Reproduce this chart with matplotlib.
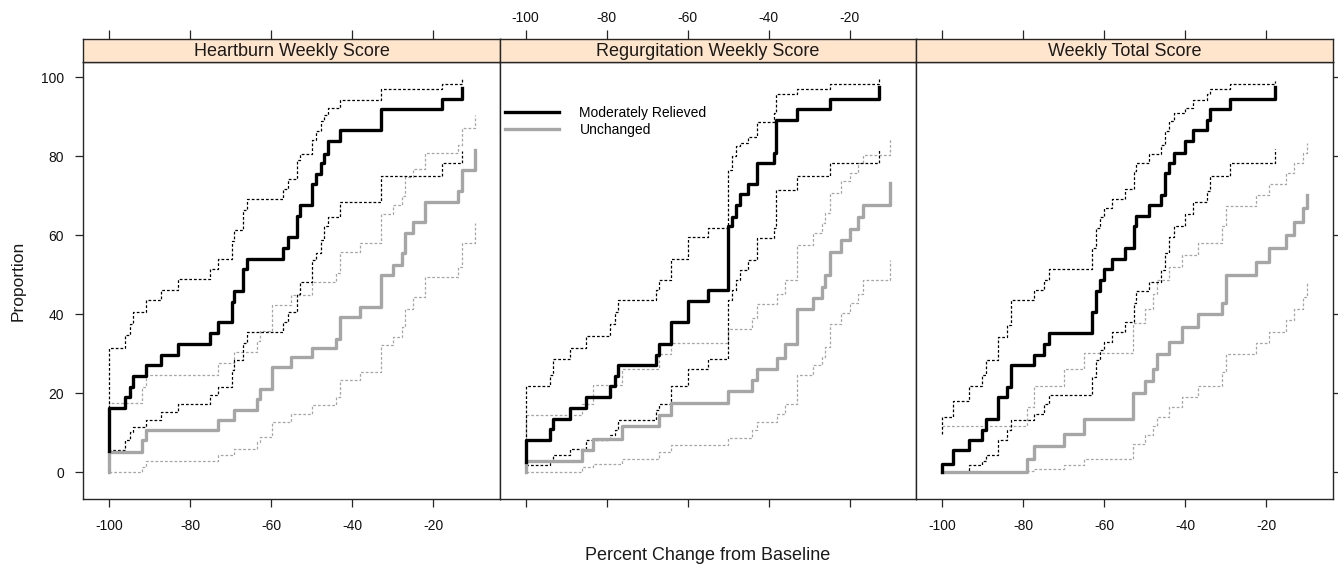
import matplotlib
matplotlib.use("Agg")
import matplotlib.pyplot as plt
from matplotlib.lines import Line2D

plt.rcParams['font.family'] = ['Liberation Sans', 'DejaVu Sans']
plt.rcParams['axes.unicode_minus'] = False

panel_titles = ["Heartburn Weekly Score", "Regurgitation Weekly Score", "Weekly Total Score"]
group_labels = ["Moderately Relieved", "Unchanged"]
x_ticks = [-100, -80, -60, -40, -20]
y_ticks = [0, 20, 40, 60, 80, 100]

# Heartburn: step breakpoints (% change) and cumulative proportion with CI
hb_mr_x = [-100, -100, -96.1, -94.9, -94.1, -90.8, -87.1, -83.1, -75.1, -73.1, -69.8, -69.1, -66.9,
           -66.1, -57.0, -55.8, -53.6, -52.9, -49.9, -49.0, -47.8, -46.9, -45.9, -43.0, -32.8, -17.9, -12.8]
hb_mr = [5.4, 16.2, 19.1, 21.7, 24.5, 27.2, 29.7, 32.4, 35.2, 38.0, 43.1, 45.9, 51.4, 54.1, 56.8,
         59.5, 65.0, 67.8, 73.1, 75.6, 78.3, 80.6, 83.8, 86.6, 91.9, 94.6, 97.4]
hb_mr_hi = [5.4, 31.6, 34.8, 37.7, 40.5, 43.7, 46.2, 48.9, 51.4, 54.1, 58.5, 61.5, 66.5, 69.2, 71.7,
            74.3, 79.2, 80.6, 84.3, 86.5, 88.9, 90.6, 92.3, 94.2, 97.1, 98.4, 99.7]
hb_mr_lo = [0.5, 5.8, 8.1, 10.2, 11.5, 13.2, 15.3, 17.4, 19.5, 21.7, 25.9, 28.4, 32.7, 35.6, 38.2,
            40.7, 45.3, 48.3, 53.8, 55.5, 58.9, 62.3, 64.8, 68.6, 75.1, 78.3, 81.5]
hb_un_x = [-100, -100, -92.0, -90.8, -73.1, -69.1, -63.6, -62.8, -59.9, -55.0, -49.9, -43.9, -43.0,
           -38.1, -32.8, -29.9, -27.8, -27.0, -24.9, -22.1, -13.8, -12.8, -9.7]
hb_un = [0, 5.2, 8.1, 10.7, 13.2, 15.9, 18.7, 21.2, 26.7, 29.3, 31.6, 33.9, 39.4, 42.0, 50.0, 52.5,
         55.5, 60.7, 63.4, 68.6, 71.2, 76.6, 81.7]
hb_un_hi = [0, 17.6, 21.7, 24.6, 27.6, 30.5, 33.2, 35.8, 42.4, 44.9, 48.1, 50.4, 55.7, 58.2, 65.4,
            67.6, 70.0, 74.8, 76.8, 80.9, 83.0, 87.2, 90.6]
hb_un_lo = [0, 0.1, 1.5, 2.9, 4.3, 6.0, 7.7, 8.9, 12.8, 14.9, 17.0, 19.1, 23.4, 25.5, 32.2, 34.3,
            36.9, 41.5, 44.5, 49.6, 52.1, 58.0, 63.1]

# Regurgitation
rg_mr_x = [-100, -100, -94.0, -93.2, -89.1, -85.1, -79.2, -77.9, -77.1, -67.8, -67.0, -64.0, -59.8,
           -54.9, -50.1, -49.1, -48.1, -47.1, -45.0, -43.0, -38.7, -38.2, -33.1, -24.9, -12.7]
rg_mr = [2.7, 8.1, 10.9, 13.6, 16.2, 19.1, 21.8, 24.4, 27.2, 29.7, 32.5, 38.0, 43.5, 46.2, 62.3,
         64.8, 67.8, 70.6, 73.1, 78.3, 81.0, 89.3, 91.9, 94.6, 97.5]
rg_mr_hi = [1.8, 21.8, 24.6, 28.6, 31.6, 34.6, 37.7, 40.5, 43.7, 46.2, 48.7, 54.1, 59.5, 62.0, 76.6,
            80.0, 82.6, 83.4, 85.0, 88.7, 91.0, 95.9, 97.1, 98.4, 99.7]
rg_mr_lo = [0.5, 1.8, 3.0, 4.3, 6.0, 8.1, 9.4, 10.7, 13.2, 15.7, 17.4, 21.8, 26.3, 28.6, 43.7,
            46.2, 48.7, 51.3, 53.8, 59.3, 62.0, 71.6, 75.1, 78.3, 81.9]
rg_un_x = [-100, -100, -86.2, -83.3, -76.1, -67.0, -64.0, -50.1, -44.2, -43.0, -38.0, -36.0, -33.1,
           -29.0, -26.9, -26.1, -24.9, -22.2, -19.9, -17.9, -16.6, -10.1]
rg_un = [0, 3.0, 5.8, 8.5, 11.7, 14.5, 17.6, 20.6, 23.4, 26.3, 29.0, 32.4, 41.3, 44.1, 47.0, 50.0,
         55.9, 58.9, 61.6, 64.8, 67.8, 73.4]
rg_un_hi = [0, 14.5, 17.4, 22.1, 26.3, 30.1, 32.8, 36.2, 39.0, 42.6, 45.3, 48.7, 57.6, 60.6, 63.1,
            65.7, 70.7, 73.7, 75.8, 78.3, 80.5, 84.7]
rg_un_lo = [0, 0.1, 1.4, 2.2, 3.5, 5.2, 6.9, 8.7, 10.7, 12.8, 14.9, 17.4, 24.6, 27.2, 29.3, 31.8,
            37.7, 40.3, 42.8, 45.3, 48.7, 53.8]

# Weekly total
wt_mr_x = [-100, -100, -97.3, -93.4, -90.1, -89.1, -86.2, -84.0, -83.0, -77.2, -74.9, -73.7, -63.0,
           -62.1, -61.1, -60.1, -58.0, -54.9, -52.7, -52.0, -49.0, -45.9, -45.0, -44.0, -42.8, -40.1,
           -38.0, -34.7, -33.9, -28.8, -17.9]
wt_mr = [0.1, 2.2, 5.6, 8.1, 10.8, 13.6, 19.1, 21.7, 27.2, 29.7, 32.5, 35.4, 40.5, 45.9, 48.6, 51.4,
         54.1, 56.8, 62.3, 65.0, 67.8, 70.3, 75.8, 78.3, 80.9, 84.0, 86.6, 89.3, 91.9, 94.6, 97.5]
wt_mr_hi = [9.8, 14.0, 18.1, 21.8, 24.6, 28.4, 34.3, 37.3, 43.7, 46.2, 48.7, 51.4, 56.8, 61.8, 64.8,
            66.9, 69.2, 71.7, 76.2, 78.3, 80.6, 83.0, 86.5, 88.9, 91.0, 92.3, 94.2, 95.9, 97.1, 98.4, 99.1]
wt_mr_lo = [0.1, 0.1, 0.1, 1.8, 2.9, 4.4, 8.1, 10.7, 13.2, 14.9, 17.4, 19.5, 24.2, 28.4, 30.9, 33.1,
            35.6, 38.2, 42.8, 45.9, 48.3, 51.3, 55.5, 59.7, 62.5, 65.4, 68.6, 71.2, 75.1, 78.3, 81.9]
wt_un_x = [-100, -79.0, -77.2, -70.0, -65.0, -52.8, -50.0, -48.0, -46.9, -44.0, -40.7, -36.8, -30.9,
           -29.9, -22.6, -19.2, -15.1, -13.0, -10.9, -9.9]
wt_un = [0, 3.5, 6.6, 9.8, 13.6, 20.0, 23.1, 26.3, 30.1, 33.1, 36.9, 40.0, 42.8, 50.0, 53.4, 56.8,
         60.2, 63.5, 66.9, 70.3]
wt_un_hi = [11.7, 16.6, 21.8, 26.3, 30.3, 37.9, 41.5, 45.3, 48.7, 52.1, 55.1, 58.2, 62.3, 67.5, 70.3,
            73.1, 75.8, 78.3, 80.9, 83.4]
wt_un_lo = [0, 0.4, 0.9, 2.0, 3.5, 7.3, 9.4, 11.7, 14.0, 16.6, 19.1, 21.8, 25.5, 29.9, 32.7, 35.6,
            38.6, 41.5, 44.5, 48.3]

panels = [
    (hb_mr_x, hb_mr, hb_mr_lo, hb_mr_hi, hb_un_x, hb_un, hb_un_lo, hb_un_hi),
    (rg_mr_x, rg_mr, rg_mr_lo, rg_mr_hi, rg_un_x, rg_un, rg_un_lo, rg_un_hi),
    (wt_mr_x, wt_mr, wt_mr_lo, wt_mr_hi, wt_un_x, wt_un, wt_un_lo, wt_un_hi),
]

W, H = 1338, 565
fig = plt.figure(figsize=(W / 100, H / 100), dpi=100)

black, grey = "#000000", "#a6a6a6"
edge = "#262626"
lefts = [83.3, 499.7, 916.1]
pw = 416.4

for i, (title, data) in enumerate(zip(panel_titles, panels)):
    mx, my, mlo, mhi, ux, uy, ulo, uhi = data
    ax = fig.add_axes([lefts[i] / W, 65.7 / H, pw / W, 437.6 / H])
    sax = fig.add_axes([lefts[i] / W, 503.3 / H, pw / W, 22.4 / H])

    for yy in (ulo, uhi):
        ax.step(ux, yy, where="post", color=grey, lw=0.9, dashes=(2.2, 1.6))
    for yy in (mlo, mhi):
        ax.step(mx, yy, where="post", color=black, lw=0.9, dashes=(2.2, 1.6))
    ax.step(ux, uy, where="post", color=grey, lw=2.4)
    ax.step(mx, my, where="post", color=black, lw=2.4)

    ax.set_xlim(-106.4, -3.6)
    ax.set_ylim(-6.8, 104.0)
    ax.set_xticks(x_ticks)
    ax.set_yticks(y_ticks)
    ax.tick_params(axis="x", direction="out", length=6, width=0.9, pad=8, labelsize=10,
                   colors=edge, labelcolor="#111111", bottom=True, top=False, labelbottom=(i != 1))
    ax.tick_params(axis="y", direction="out", length=6, width=0.9, pad=8, labelsize=10,
                   colors=edge, labelcolor="#111111", left=(i == 0), labelleft=(i == 0),
                   right=(i == 2), labelright=False)
    for s in ax.spines.values():
        s.set_color(edge)
        s.set_linewidth(1.0)

    sax.set_facecolor("#ffe5cc")
    sax.set_xlim(-106.4, -3.6)
    sax.set_ylim(0, 1)
    sax.set_yticks([])
    sax.set_xticks(x_ticks)
    sax.xaxis.tick_top()
    sax.tick_params(axis="x", direction="out", length=6.5, width=0.9, pad=4, labelsize=10,
                    colors=edge, labelcolor="#111111", top=True, bottom=False,
                    labeltop=(i == 1), labelbottom=False)
    for s in sax.spines.values():
        s.set_color(edge)
        s.set_linewidth(1.0)
    sax.text(0.5, 0.45, title, transform=sax.transAxes, ha="center", va="center",
             fontsize=13, color="#1a1a1a")

    if i == 1:
        handles = [Line2D([], [], color=black, lw=2.4), Line2D([], [], color=grey, lw=2.4)]
        ax.legend(handles, group_labels, loc="upper left", bbox_to_anchor=(0.013, 0.899),
                  frameon=False, fontsize=10, handlelength=3.9, handletextpad=1.45,
                  labelspacing=0.22, borderpad=0, borderaxespad=0)

fig.text(707.5 / W, 1 - 556 / H, "Percent Change from Baseline", ha="center", va="center",
         fontsize=13, color="#1a1a1a")
fig.text(18 / W, 1 - 280.5 / H, "Proportion", ha="center", va="center", rotation=90,
         fontsize=12.5, color="#1a1a1a")

fig.savefig("out.png", dpi=100)
